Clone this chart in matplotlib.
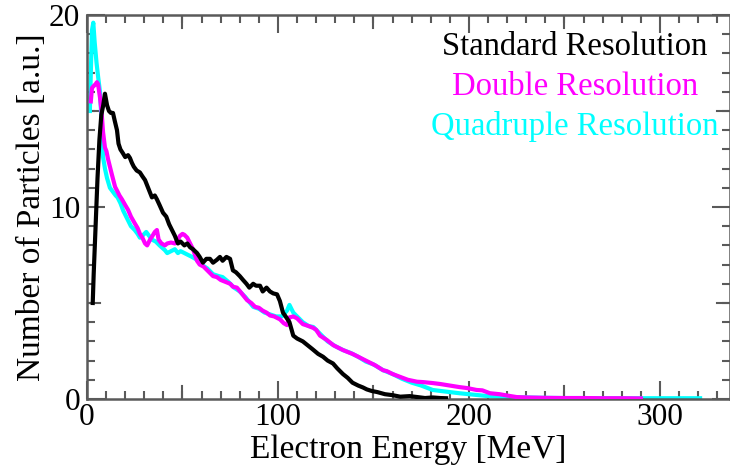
import matplotlib
matplotlib.use("Agg")
import matplotlib.pyplot as plt
from matplotlib.ticker import MultipleLocator, FixedLocator

# ---- data ----
std_x = [3, 3.5, 4.5, 5.5, 6.5, 7.5, 8.5, 9.4, 10.5, 11.5, 12.5, 13.6, 14.5, 15.7, 16.5, 17.5, 18.8, 20, 21.5, 22.5,
         23.5, 24.5, 26, 27.7, 29, 30.4, 32, 34, 35.5, 36.6, 38, 39.8, 41.5, 43, 44.5, 46, 47.6, 49, 51, 52.5,
         54, 55.5, 57.6, 59, 60.7, 62.5, 64.4, 66, 68, 69.6, 71, 73, 74.9, 76.4, 78, 80, 81.7, 83.5, 85, 87,
         88.5, 90.6, 92, 94, 95.8, 97.5, 99.5, 101, 102.6, 104, 106, 108, 110, 113, 115.5, 118, 121, 123.6, 126, 128.8,
         131, 134, 136.5, 139, 142, 144.5, 146.5, 149, 152, 156, 160, 164, 169, 173, 177, 181, 185, 188]
std_y = [5.0, 6.5, 9.0, 11.5, 13.5, 14.8, 15.3, 15.9, 15.3, 15.0, 14.9, 14.9, 14.5, 14.0, 13.3, 13.0, 12.8, 12.6, 12.7, 12.55,
         12.3, 12.1, 11.9, 11.8, 11.6, 11.4, 11.0, 10.5, 10.6, 10.4, 10.1, 9.7, 9.5, 9.1, 8.8, 8.5, 8.1, 8.2, 8.0, 8.1,
         7.9, 7.8, 7.6, 7.4, 7.1, 7.3, 7.3, 7.1, 7.25, 7.4, 7.2, 7.4, 7.3, 6.7, 6.6, 6.4, 6.2, 6.0, 5.8, 6.0,
         5.9, 5.9, 5.6, 5.8, 5.6, 5.5, 5.45, 5.1, 4.5, 4.3, 4.0, 3.3, 3.15, 3.0, 2.8, 2.6, 2.35, 2.2, 2.0, 1.85,
         1.6, 1.3, 1.1, 0.85, 0.7, 0.6, 0.5, 0.42, 0.36, 0.25, 0.2, 0.12, 0.15, 0.1, 0.05, 0.08, 0.05, 0.04]

dbl_x = [2, 2.6, 3.5, 4.5, 5.2, 5.8, 6.8, 7.6, 8.4, 9.4, 10.2, 11, 12, 13, 14.7, 16, 17, 18.3, 20, 21.5,
         23, 25, 26.5, 27.7, 29, 30.4, 31.5, 33, 34, 35.5, 36.6, 37.5, 39, 40.8, 42, 44, 46, 47.5, 48.7, 50,
         51, 52.5, 54, 55.5, 57.6, 59, 61, 63, 66, 68, 70, 72.5, 75, 76.4, 78.5, 81, 83.8, 86, 88, 90,
         92, 94, 95.8, 98, 101, 103, 104.7, 106, 108, 110, 113, 116, 118.5, 120, 122, 125.6, 129, 131, 134, 137.7,
         139, 142, 145, 148, 151, 155, 157, 160, 164, 168, 172.8, 176, 181, 185, 190, 195, 199, 204, 207, 211,
         216, 220, 225, 230, 240, 250, 260, 270, 280, 290]
dbl_y = [15.5, 16.2, 16.3, 16.4, 16.5, 16.4, 15.7, 15.0, 13.9, 13.1, 12.9, 12.5, 12.1, 11.7, 11.05, 10.8, 10.6, 10.4, 10.1, 9.85,
         9.5, 9.15, 8.9, 8.6, 8.4, 8.1, 8.0, 8.3, 8.45, 8.7, 8.8, 8.3, 8.1, 8.0, 8.1, 8.15, 8.1, 8.3, 8.5, 8.6,
         8.55, 8.4, 8.1, 7.8, 7.2, 7.0, 6.9, 6.7, 6.4, 6.35, 6.2, 6.1, 6.0, 5.85, 5.8, 5.5, 5.15, 5.0, 4.8, 4.75,
         4.6, 4.5, 4.35, 4.3, 4.15, 3.95, 3.85, 4.25, 4.3, 4.2, 3.9, 3.8, 3.7, 3.6, 3.3, 3.07, 2.8, 2.7, 2.55, 2.4,
         2.35, 2.2, 2.05, 1.9, 1.75, 1.5, 1.45, 1.3, 1.15, 1.0, 0.9, 0.88, 0.83, 0.78, 0.7, 0.62, 0.57, 0.47, 0.45, 0.3,
         0.25, 0.18, 0.1, 0.08, 0.06, 0.05, 0.05, 0.04, 0.04, 0.03]

quad_x = [1.5, 2, 2.6, 3.3, 4, 5, 5.8, 6.8, 7.6, 8.4, 9.4, 10.5, 12, 13.5, 15, 16, 17.5, 19, 21.5, 23,
          25, 26.5, 27.7, 29, 31, 32.5, 34, 36, 38, 40.8, 42, 44, 46, 47.6, 49, 51, 53, 55, 57.6, 60,
          63, 66, 69, 71, 74, 77, 80, 83, 87, 90, 93, 96, 99, 102, 104.7, 106, 108, 110, 113, 116,
          118.5, 122, 126, 130, 134, 138, 142, 146, 150, 155, 160, 165, 170, 175, 181, 185, 190, 195, 200, 205,
          210, 215, 220, 230, 240, 250, 260, 270, 280, 290, 300, 310, 321]
quad_y = [15, 17, 19.2, 19.6, 18.6, 17.5, 16.8, 16.0, 14.5, 12.6, 12.0, 11.5, 11.0, 10.8, 10.6, 10.5, 10.2, 9.8, 9.3, 9.0,
          8.8, 8.6, 8.4, 8.5, 8.7, 8.5, 8.3, 8.2, 8.0, 7.75, 7.6, 7.7, 7.8, 7.6, 7.7, 7.6, 7.5, 7.4, 7.25, 7.0,
          6.8, 6.5, 6.4, 6.35, 6.1, 5.8, 5.6, 5.3, 4.8, 4.7, 4.5, 4.4, 4.3, 4.3, 4.6, 4.9, 4.5, 4.3, 4.0, 3.8,
          3.75, 3.4, 3.0, 2.75, 2.55, 2.4, 2.2, 1.95, 1.8, 1.5, 1.3, 1.05, 0.85, 0.7, 0.47, 0.42, 0.36, 0.3, 0.25, 0.2,
          0.15, 0.12, 0.1, 0.08, 0.06, 0.05, 0.05, 0.04, 0.04, 0.04, 0.04, 0.04, 0.04]

series_labels = ["Standard Resolution", "Double Resolution", "Quadruple Resolution"]
series_colors = ["#000000", "#ff00ff", "#00ffff"]
x_ticklabels = ["0", "100", "200", "300"]
y_ticklabels = ["0", "10", "20"]

plt.rcParams['font.family'] = ['Liberation Serif', 'DejaVu Serif']

W, H = 730, 467
fig = plt.figure(figsize=(W/100, H/100), dpi=100)
ax = fig.add_axes([87/W, 1 - 399/H, (729.5 - 87)/W, (399 - 15)/H])

lw = 3.0
ax.plot(quad_x, quad_y, color=series_colors[2], lw=lw, zorder=2, label=series_labels[2])
ax.plot(dbl_x, dbl_y, color=series_colors[1], lw=lw, zorder=3, label=series_labels[1])
ax.plot(std_x, std_y, color=series_colors[0], lw=lw, zorder=4, label=series_labels[0])

ax.set_xlim(0, 336.4)
ax.set_ylim(0, 20)

spine_col = "#5a5a5a"
for s in ax.spines.values():
    s.set_color(spine_col)
    s.set_linewidth(1.8)

ax.xaxis.set_major_locator(FixedLocator([0, 100, 200, 300]))
ax.set_xticklabels(x_ticklabels)
ax.xaxis.set_minor_locator(MultipleLocator(10))
ax.yaxis.set_major_locator(FixedLocator([0, 10, 20]))
ax.set_yticklabels(y_ticklabels)
ax.yaxis.set_minor_locator(MultipleLocator(1))

ax.tick_params(which='both', direction='in', top=True, right=True, color=spine_col, width=1.5,
               labelsize=22.5, labelcolor='black')
ax.tick_params(which='major', length=13, pad=3)
ax.tick_params(which='minor', length=6)
ax.tick_params(axis='y', which='major', pad=5)
# medium ticks at 50-multiples / 5-multiples as in the reference
for xv in [50, 150, 250]:
    ax.axvline(xv, ymin=0, ymax=13/384, color=spine_col, lw=1.5, zorder=1)
    ax.axvline(xv, ymin=1 - 13/384, ymax=1, color=spine_col, lw=1.5, zorder=1)
for yv in [5, 15]:
    ax.axhline(yv, xmin=0, xmax=13/642.5, color=spine_col, lw=1.5, zorder=1)
    ax.axhline(yv, xmin=1 - 13/642.5, xmax=1, color=spine_col, lw=1.5, zorder=1)

ax.set_xlabel("Electron Energy [MeV]", fontsize=24, labelpad=2)
ax.set_ylabel("Number of Particles [a.u.]", fontsize=24, labelpad=1)

# text-only legend, centred entries in the series colours
legend_baselines = [55, 95, 135]
for lab, col, yb in zip(series_labels, series_colors, legend_baselines):
    fig.text(575/W, 1 - yb/H, lab, color=col, fontsize=23.5, ha='center', va='baseline')

fig.savefig("out.png", dpi=100)
